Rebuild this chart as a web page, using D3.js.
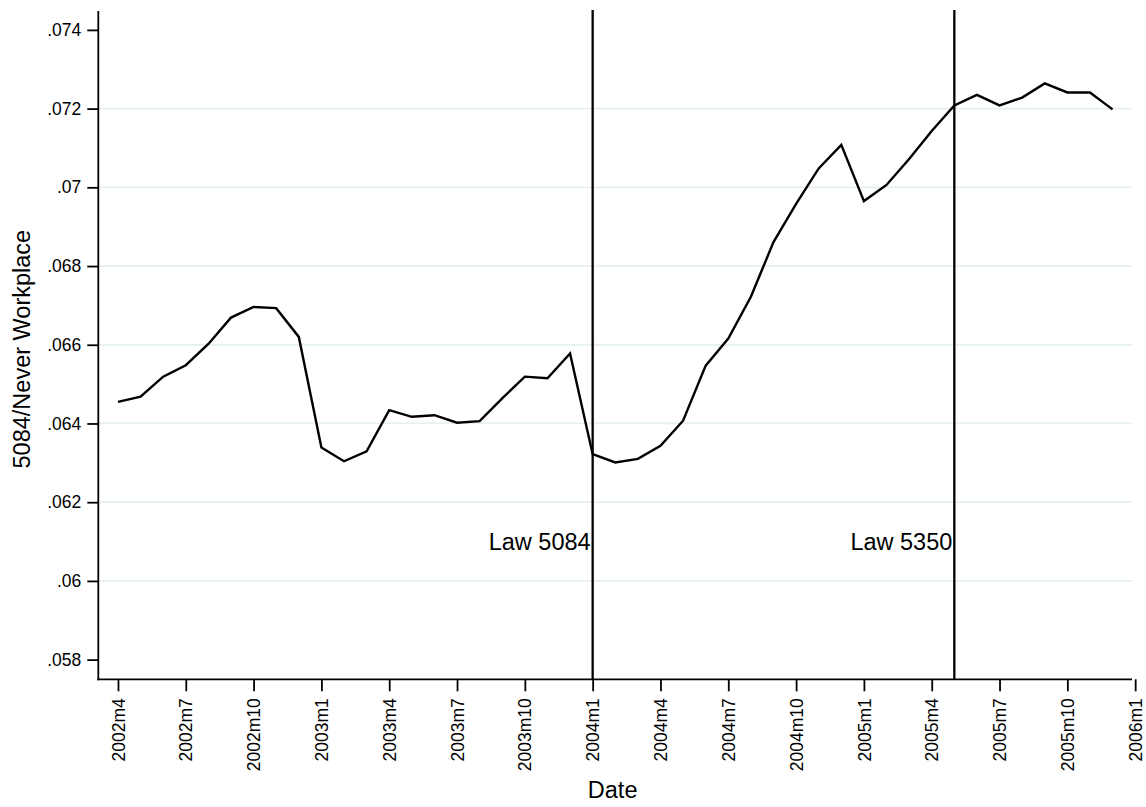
<!DOCTYPE html>
<html>
<head>
<meta charset="utf-8">
<script src="https://cdn.jsdelivr.net/npm/d3@7"></script>
<style>
  html, body { margin: 0; padding: 0; background: #fff; }
  svg { display: block; font-family: "Liberation Sans", Arial, Helvetica, sans-serif; }
</style>
</head>
<body>
<svg id="chart" width="1146" height="807"></svg>
<script>
// ---- data ----
const months = [
  "2002m4","2002m5","2002m6","2002m7","2002m8","2002m9","2002m10","2002m11","2002m12",
  "2003m1","2003m2","2003m3","2003m4","2003m5","2003m6","2003m7","2003m8","2003m9","2003m10","2003m11","2003m12",
  "2004m1","2004m2","2004m3","2004m4","2004m5","2004m6","2004m7","2004m8","2004m9","2004m10","2004m11","2004m12",
  "2005m1","2005m2","2005m3","2005m4","2005m5","2005m6","2005m7","2005m8","2005m9","2005m10","2005m11","2005m12"
];
const ratio = [
  .06455, .06468, .06519, .06548, .06602, .06669, .06696, .06693, .06620,
  .06339, .06304, .06329, .06434, .06417, .06421, .06402, .06406, .06464, .06519, .06515, .06578,
  .06322, .06301, .06310, .06343, .06407, .06547, .06616, .06722, .06861, .06958, .07048, .07108,
  .06965, .07006, .07072, .07143, .07208, .07235, .07208, .07228, .07264, .07241, .07241, .07198
];
const xTickLabels = ["2002m4","2002m7","2002m10","2003m1","2003m4","2003m7","2003m10",
  "2004m1","2004m4","2004m7","2004m10","2005m1","2005m4","2005m7","2005m10","2006m1"];
const yTicks = [.058, .060, .062, .064, .066, .068, .070, .072, .074];
const yGrid = [.060, .062, .064, .066, .068, .070, .072];
const lawDates = ["2004m1", "2005m5"];
const lawLabels = ["Law 5084", "Law 5350"];
const lawLabelLevel = .061;
const yTitle = "5084/Never Workplace";
const xTitle = "Date";

// ---- helpers ----
function monthIndex(s) {
  const [y, m] = s.split("m").map(Number);
  return (y - 2002) * 12 + (m - 4);
}
function fmtTick(v) {
  let s = d3.format(".3f")(v).replace(/^0/, "");
  s = s.replace(/0+$/, "");
  return s;
}

// ---- layout ----
const plot = { left: 98.3, right: 1132, top: 11, bottom: 679.3 };
const x = d3.scaleLinear().domain([-0.87, 44.86]).range([plot.left, plot.right]);
const y = d3.scaleLinear().domain([.0575, .07448]).range([plot.bottom, plot.top]);

const svg = d3.select("#chart");

// grid
svg.append("g").selectAll("line").data(yGrid).join("line")
  .attr("x1", plot.left).attr("x2", plot.right)
  .attr("y1", d => y(d)).attr("y2", d => y(d))
  .attr("stroke", "#e6eff1").attr("stroke-width", 1.8);

// y axis
const yAxis = d3.axisLeft(y).tickValues(yTicks).tickSize(11).tickPadding(6).tickFormat(fmtTick);
const gy = svg.append("g").attr("transform", `translate(${plot.left},0)`).call(yAxis);
gy.select(".domain").remove();
gy.selectAll(".tick line").attr("stroke", "#000").attr("stroke-width", 1.8);
gy.selectAll(".tick text").attr("font-size", 17.5).attr("fill", "#000")
  .attr("font-family", "Liberation Sans, Arial, sans-serif");
svg.append("line").attr("x1", plot.left).attr("x2", plot.left)
  .attr("y1", plot.top).attr("y2", plot.bottom + 0.9)
  .attr("stroke", "#000").attr("stroke-width", 1.8);

// x axis
const xAxis = d3.axisBottom(x).tickValues(xTickLabels.map(monthIndex)).tickSize(12)
  .tickFormat((d, i) => xTickLabels[i]);
const gx = svg.append("g").attr("transform", `translate(0,${plot.bottom})`).call(xAxis);
gx.select(".domain").remove();
gx.selectAll(".tick line").attr("stroke", "#000").attr("stroke-width", 1.8);
gx.selectAll(".tick text")
  .attr("font-size", 17.5).attr("fill", "#000")
  .attr("font-family", "Liberation Sans, Arial, sans-serif")
  .attr("text-anchor", "end")
  .attr("transform", "rotate(-90)")
  .attr("x", -19).attr("y", 0).attr("dy", "0.35em");
svg.append("line").attr("x1", plot.left - 0.9).attr("x2", plot.right)
  .attr("y1", plot.bottom).attr("y2", plot.bottom)
  .attr("stroke", "#000").attr("stroke-width", 1.8);

// law lines
svg.append("g").selectAll("line").data(lawDates).join("line")
  .attr("x1", d => x(monthIndex(d))).attr("x2", d => x(monthIndex(d)))
  .attr("y1", plot.top - 1).attr("y2", plot.bottom)
  .attr("stroke", "#000").attr("stroke-width", 2.3);
svg.append("g").selectAll("text").data(lawDates).join("text")
  .attr("x", d => x(monthIndex(d)) - 2)
  .attr("y", y(lawLabelLevel))
  .attr("dy", "0.35em")
  .attr("text-anchor", "end")
  .attr("font-size", 23.5)
  .attr("fill", "#000")
  .text((d, i) => lawLabels[i]);

// series line
const line = d3.line()
  .x((d, i) => x(monthIndex(months[i])))
  .y(d => y(d));
svg.append("path").datum(ratio)
  .attr("d", line)
  .attr("fill", "none").attr("stroke", "#000")
  .attr("stroke-width", 2.4).attr("stroke-linejoin", "miter");

// titles
svg.append("text")
  .attr("transform", `translate(30,${(plot.top + plot.bottom) / 2 + 4}) rotate(-90)`)
  .attr("text-anchor", "middle")
  .attr("font-size", 23.5).attr("fill", "#000")
  .text(yTitle);
svg.append("text")
  .attr("x", x(monthIndex("2004m1")) + 20)
  .attr("y", 798)
  .attr("text-anchor", "middle")
  .attr("font-size", 23.5).attr("fill", "#000")
  .text(xTitle);
</script>
</body>
</html>
